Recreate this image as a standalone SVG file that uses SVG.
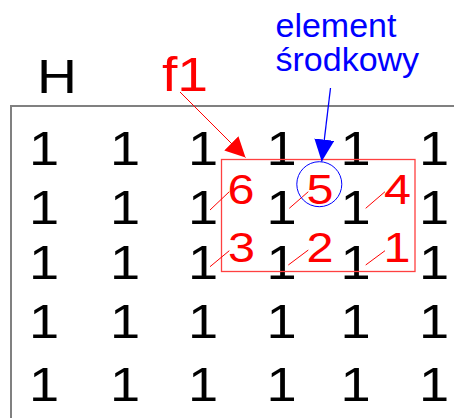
<svg xmlns="http://www.w3.org/2000/svg" width="454" height="418" viewBox="0 0 454 418">
<style>
  text { font-family: "Liberation Sans", Arial, sans-serif; }
  .st { transform-box: fill-box; transform-origin: center; transform: scaleX(1.13); }
  .one { font-size: 48px; fill: #000; text-anchor: middle; }
  .red { font-size: 43px; fill: #ff0000; text-anchor: middle; }
  .blue { font-size: 34px; fill: #0000ff; }
  .frame { fill: none; stroke: #808080; stroke-width: 2; }
  .slash { stroke: #ff0000; stroke-width: 1; fill: none; }
</style>
<defs>
  <marker id="ar" markerUnits="userSpaceOnUse" markerWidth="22" markerHeight="22" refX="20" refY="10" orient="auto">
    <path d="M0,0 L20,10 L0,20 z" fill="#ff0000"/>
  </marker>
  <marker id="ab" markerUnits="userSpaceOnUse" markerWidth="24" markerHeight="22" refX="22" refY="10" orient="auto">
    <path d="M0,0 L22,10 L0,20 z" fill="#0000ff"/>
  </marker>
</defs>
<rect width="454" height="418" fill="#fff"/>

<g id="matrix-H">
  <path class="frame" d="M11,418 V106 H454"/>
  <text class="one st" x="57" y="93" style="font-size:49px">H</text>
  <g id="values">
    <text class="one st" x="44" y="165">1</text>
    <text class="one st" x="125" y="165">1</text>
    <text class="one st" x="203" y="165">1</text>
    <text class="one st" x="281.5" y="165">1</text>
    <text class="one st" x="355.5" y="165">1</text>
    <text class="one st" x="434" y="165">1</text>

    <text class="one st" x="44" y="224">1</text>
    <text class="one st" x="125" y="224">1</text>
    <text class="one st" x="203" y="224">1</text>
    <text class="one st" x="281.5" y="224">1</text>
    <text class="one st" x="355.5" y="224">1</text>
    <text class="one st" x="434" y="224">1</text>

    <text class="one st" x="44" y="279">1</text>
    <text class="one st" x="125" y="279">1</text>
    <text class="one st" x="203" y="279">1</text>
    <text class="one st" x="281.5" y="279">1</text>
    <text class="one st" x="355.5" y="279">1</text>
    <text class="one st" x="434" y="279">1</text>

    <text class="one st" x="44" y="338">1</text>
    <text class="one st" x="125" y="338">1</text>
    <text class="one st" x="203" y="338">1</text>
    <text class="one st" x="281.5" y="338">1</text>
    <text class="one st" x="355.5" y="338">1</text>
    <text class="one st" x="434" y="338">1</text>

    <text class="one st" x="44" y="401">1</text>
    <text class="one st" x="125" y="401">1</text>
    <text class="one st" x="203" y="401">1</text>
    <text class="one st" x="281.5" y="401">1</text>
    <text class="one st" x="355.5" y="401">1</text>
    <text class="one st" x="434" y="401">1</text>
  </g>
</g>

<g id="filter-f1">
  <rect x="221.5" y="159.5" width="193.5" height="112" fill="none" stroke="#ff4040" stroke-width="1.3"/>
  <text class="red st" x="241" y="204">6</text>
  <text class="red st" x="320" y="204">5</text>
  <text class="red st" x="397.5" y="204">4</text>
  <text class="red st" x="241.5" y="262">3</text>
  <text class="red st" x="320" y="262">2</text>
  <text class="red st" x="397" y="262">1</text>
  <path class="slash" d="M210,210 L229.3,191.7 M289.3,208.3 L308.3,191.7 M365.7,208.3 L385,191.7 M210,266.7 L229.3,250.7 M288.3,265 L308.3,250 M365.7,265 L385,250.7"/>
  <text class="st" x="185" y="91" style="font-size:49px;fill:#ff0000;text-anchor:middle">f1</text>
</g>

<g id="center-element">
  <circle cx="319.3" cy="184.2" r="22.5" fill="none" stroke="#0000ff" stroke-width="1"/>
  <text class="blue" x="275.5" y="37">element</text>
  <text class="blue" x="275.5" y="71">środkowy</text>
</g>

<g id="connectors">
  <line x1="180" y1="92" x2="245.5" y2="157.5" stroke="#ff0000" stroke-width="1" marker-end="url(#ar)"/>
  <line x1="330.5" y1="88" x2="321.7" y2="161.5" stroke="#0000ff" stroke-width="1.3" marker-end="url(#ab)"/>
</g>
</svg>
